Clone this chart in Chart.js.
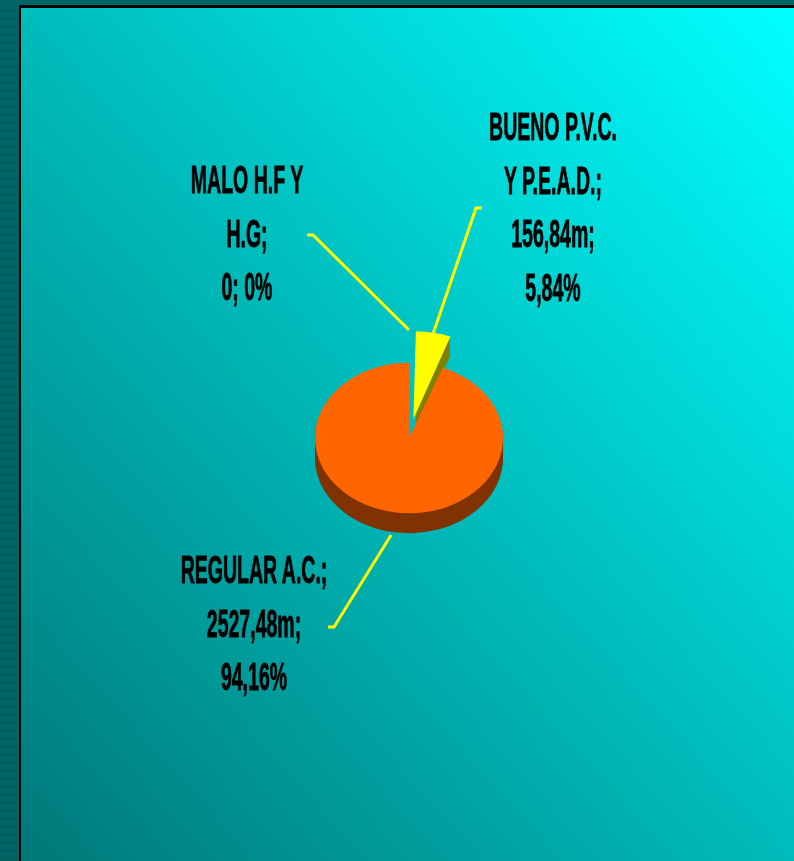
<!DOCTYPE html>
<html>
<head>
<meta charset="utf-8">
<script src="https://cdn.jsdelivr.net/npm/chart.js"></script>
<style>
  html, body { margin: 0; padding: 0; }
  body { width: 794px; height: 861px; position: relative; overflow: hidden; background: #006666; }
  #stripes { position: absolute; left: 0; top: 5px; width: 19px; bottom: 0;
    background: repeating-linear-gradient(to bottom, #006666 0 4px, #005f5f 4px 8px); }
  #frame { position: absolute; left: 19px; top: 5px; right: 0; bottom: 0; background: #000; }
  #panel { position: absolute; left: 21px; top: 8px; right: 0; bottom: 0;
    background: linear-gradient(to bottom left, #00ffff, #007878); }
  #pie { position: absolute; left: 0; top: 0; }
  .lbl { position: absolute; font: bold 39px "Liberation Sans", Arial, sans-serif;
    line-height: 53.6px; color: #000; text-align: center; white-space: nowrap;
    -webkit-text-stroke: 0.8px #000;
    transform-origin: 50% 0; transform: translateX(-50%) scaleX(0.5); }
</style>
</head>
<body>
<div id="stripes"></div>
<div id="frame"></div>
<div id="panel"></div>
<canvas id="pie" width="794" height="861"></canvas>

<script>
(() => {
    // data
    const categories = [['MALO H.F Y', 'H.G'], ['BUENO P.V.C.', 'Y P.E.A.D.'], ['REGULAR A.C.']];
    const lengths = [0, 156.84, 2527.48];

    // styles
    const topColors = ['#9999ff', '#ffff00', '#ff6600'];
    const sideColors = ['#4d4d80', '#808000', '#803300'];
    const explode = [0, 97, 0];
    const TILT = 0.8;
    const DEPTH = 20;

    // where each label sits and where its leader line bends
    const labelLayout = [
        { x: 247, top: 153, elbow: [313, 235], tick: -6, reach: 41 },
        { x: 553, top: 100, elbow: [476, 208], tick: 6, reach: 0 },
        { x: 254, top: 543, elbow: [334, 627], tick: -6, reach: 4 }
    ];

    const total = lengths.reduce((a, b) => a + b, 0);

    function fmt(v) {
        return v.toFixed(2).replace('.', ',');
    }

    function labelText(i) {
        const v = lengths[i];
        const lines = categories[i].slice();
        lines[lines.length - 1] += ';';
        if (v === 0) {
            lines.push('0; 0%');
        } else {
            lines.push(fmt(v) + 'm;');
            lines.push(fmt(v / total * 100) + '%');
        }
        return lines;
    }

    labelLayout.forEach((pos, i) => {
        const div = document.createElement('div');
        div.className = 'lbl';
        div.style.left = pos.x + 'px';
        div.style.top = pos.top + 'px';
        div.innerHTML = labelText(i).join('<br>');
        document.body.appendChild(div);
    });

    // same shift the arc element uses for its offset
    function shift(arc) {
        const off = (arc.options.offset || 0) / 4;
        const half = (arc.startAngle + arc.endAngle) / 2;
        const fix = 1 - Math.sin(Math.min(Math.PI, arc.circumference || 0));
        const t = off + off * fix;
        return { dx: Math.cos(half) * t, dy: Math.sin(half) * t };
    }

    function center(chart) {
        const a = chart.chartArea;
        return { cx: (a.left + a.right) / 2, cy: (a.top + a.bottom) / 2 };
    }

    const pie3d = {
        id: 'pie3d',
        beforeDatasetsDraw(chart) {
            const ctx = chart.ctx;
            const arcs = chart.getDatasetMeta(0).data;
            const { cx, cy } = center(chart);
            ctx.save();
            ctx.translate(cx, cy);
            ctx.scale(1, TILT);
            ctx.translate(-cx, -cy);
            for (let d = DEPTH; d >= 1; d--) {
                arcs.forEach((arc, i) => {
                    if (!arc.circumference) return;
                    const s = shift(arc);
                    const x = arc.x + s.dx;
                    const y = arc.y + s.dy + d / TILT;
                    ctx.beginPath();
                    ctx.moveTo(x, y);
                    ctx.arc(x, y, arc.outerRadius, arc.startAngle, arc.endAngle);
                    ctx.closePath();
                    ctx.fillStyle = sideColors[i];
                    ctx.fill();
                });
            }
        },
        afterDatasetsDraw(chart) {
            const ctx = chart.ctx;
            ctx.restore();
            const arcs = chart.getDatasetMeta(0).data;
            const { cy } = center(chart);
            ctx.save();
            ctx.strokeStyle = '#ffff00';
            ctx.lineWidth = 3;
            arcs.forEach((arc, i) => {
                const pos = labelLayout[i];
                const s = shift(arc);
                const mid = (arc.startAngle + arc.endAngle) / 2;
                const r = arc.outerRadius + pos.reach;
                const fx = arc.x + s.dx + Math.cos(mid) * r;
                let fy = cy + (arc.y + s.dy + Math.sin(mid) * r - cy) * TILT;
                if (Math.sin(mid) > 0) fy += DEPTH;
                ctx.beginPath();
                ctx.moveTo(fx, fy);
                ctx.lineTo(pos.elbow[0], pos.elbow[1]);
                ctx.lineTo(pos.elbow[0] + pos.tick, pos.elbow[1]);
                ctx.stroke();
            });
            ctx.restore();
        }
    };

    new Chart(document.getElementById('pie'), {
        type: 'pie',
        data: {
            labels: categories.map(c => c.join(' ')),
            datasets: [{
                data: lengths,
                backgroundColor: topColors,
                borderWidth: 0,
                offset: explode
            }]
        },
        options: {
            responsive: false,
            animation: false,
            devicePixelRatio: 1,
            radius: 94,
            layout: { padding: { left: 24, top: 15, right: 0, bottom: 0 } },
            plugins: { legend: { display: false }, tooltip: { enabled: false } }
        },
        plugins: [pie3d]
    });
})();
</script>
</body>
</html>
